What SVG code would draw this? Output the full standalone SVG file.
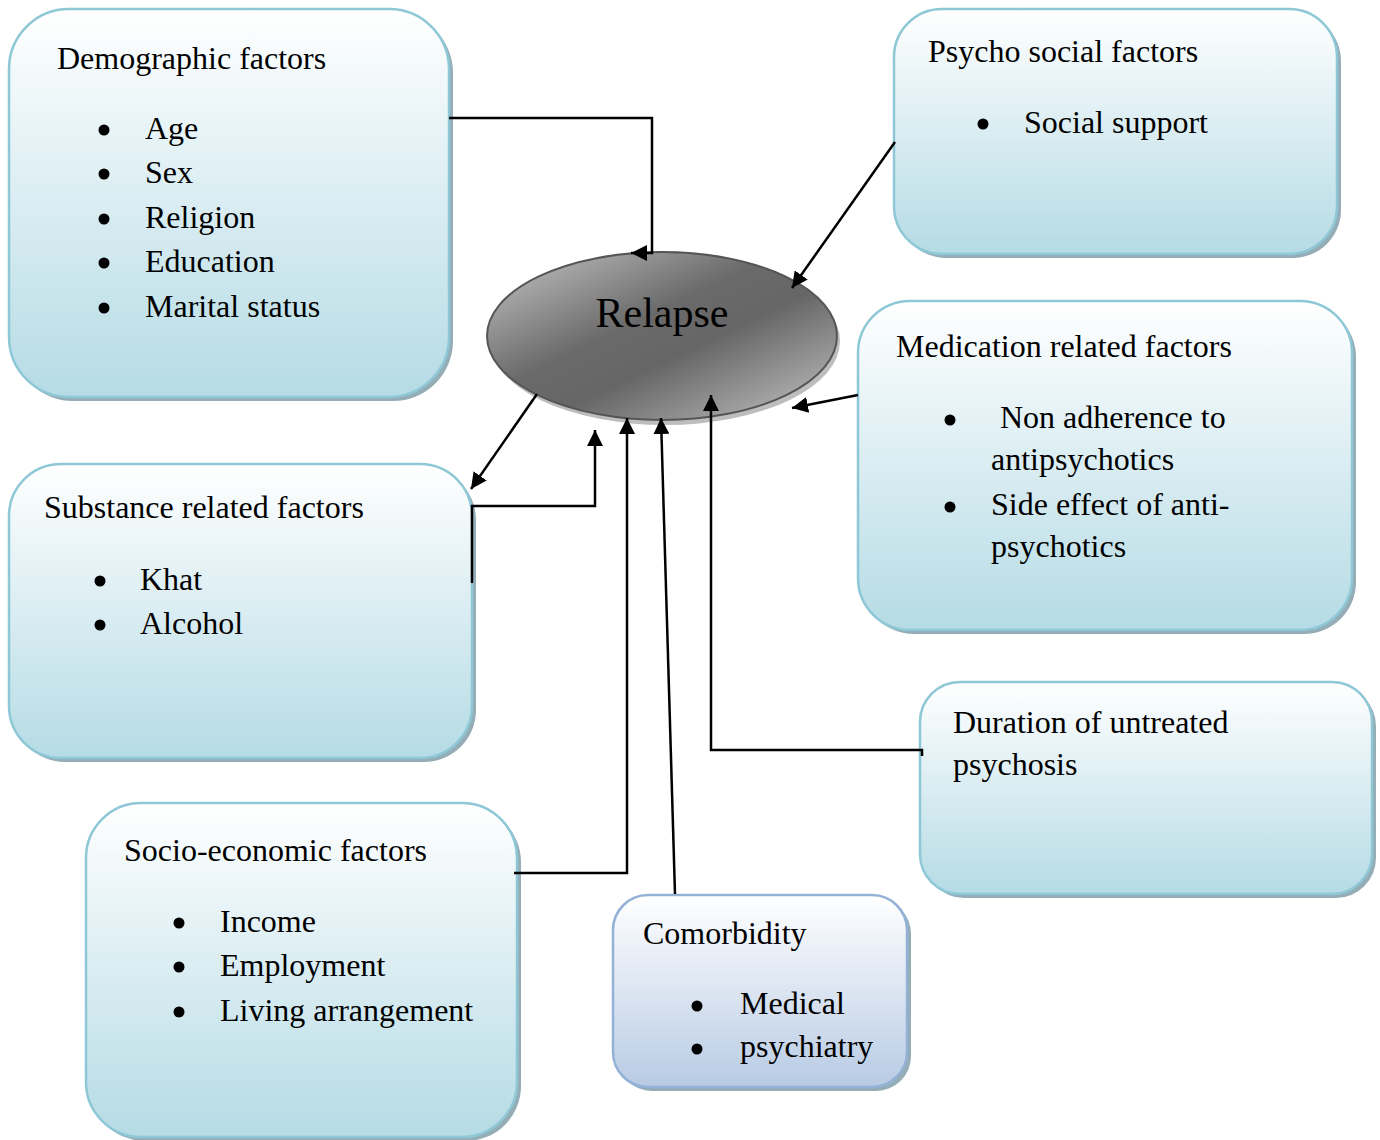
<svg xmlns="http://www.w3.org/2000/svg" width="1380" height="1140" viewBox="0 0 1380 1140">
<style>
.box{fill:url(#boxGrad);stroke:#8ec7d6;stroke-width:2.5}
.cbox{fill:url(#comGrad);stroke:#93b2d6;stroke-width:2.5}
.shadow{fill:#94adb7}
.t{font-family:"Liberation Serif","Times New Roman",serif;font-size:32px;fill:#000}
.rl{font-family:"Liberation Serif","Times New Roman",serif;font-size:42px;fill:#000;text-anchor:middle}
.dot{fill:#000}
.arr{fill:none;stroke:#000;stroke-width:2.5;marker-end:url(#ah)}
</style>
<defs>
<linearGradient id="boxGrad" x1="0" y1="0" x2="0" y2="1">
<stop offset="0" stop-color="#ffffff"/>
<stop offset="1" stop-color="#b5dbe5"/>
</linearGradient>
<linearGradient id="comGrad" x1="0" y1="0" x2="0" y2="1">
<stop offset="0" stop-color="#ffffff"/>
<stop offset="1" stop-color="#b8cbe4"/>
</linearGradient>
<linearGradient id="ellGrad" x1="0" y1="0" x2="1" y2="1">
<stop offset="0" stop-color="#c8c8c8"/>
<stop offset="0.42" stop-color="#6a6a6a"/>
<stop offset="0.58" stop-color="#666666"/>
<stop offset="1" stop-color="#c6c6c6"/>
</linearGradient>
<marker id="ah" markerUnits="userSpaceOnUse" markerWidth="17" markerHeight="16" refX="16" refY="8" orient="auto">
<path d="M0,0 L16,8 L0,16 z" fill="#000"/>
</marker>
</defs>

<g id="relapse">
<ellipse cx="665" cy="341" rx="175" ry="84" fill="#bdbdbd"/>
<ellipse cx="662" cy="336" rx="175" ry="84" fill="url(#ellGrad)" stroke="#555" stroke-width="2"/>
<text class="rl" x="662" y="327">Relapse</text>
</g>

<g id="demographic">
<rect class="shadow" x="13" y="13" width="440" height="388" rx="60"/>
<rect class="box" x="9" y="9" width="440" height="388" rx="60"/>
<text class="t" x="57" y="69">Demographic factors</text>
<circle class="dot" cx="104" cy="130" r="5.5"/><text class="t" x="145" y="139">Age</text>
<circle class="dot" cx="104" cy="174" r="5.5"/><text class="t" x="145" y="183">Sex</text>
<circle class="dot" cx="104" cy="219" r="5.5"/><text class="t" x="145" y="228">Religion</text>
<circle class="dot" cx="104" cy="263" r="5.5"/><text class="t" x="145" y="272">Education</text>
<circle class="dot" cx="104" cy="308" r="5.5"/><text class="t" x="145" y="317">Marital status</text>
</g>

<g id="psychosocial">
<rect class="shadow" x="898" y="13" width="443" height="245" rx="48"/>
<rect class="box" x="894" y="9" width="443" height="245" rx="48"/>
<text class="t" x="928" y="62">Psycho social factors</text>
<circle class="dot" cx="983" cy="124" r="5.5"/><text class="t" x="1024" y="133">Social support</text>
</g>

<g id="medication">
<rect class="shadow" x="862" y="305" width="494" height="329" rx="52"/>
<rect class="box" x="858" y="301" width="494" height="329" rx="52"/>
<text class="t" x="896" y="357">Medication related factors</text>
<circle class="dot" cx="950" cy="420" r="5.5"/><text class="t" x="1000" y="428">Non adherence to</text>
<text class="t" x="991" y="470">antipsychotics</text>
<circle class="dot" cx="950" cy="507" r="5.5"/><text class="t" x="991" y="515">Side effect of anti-</text>
<text class="t" x="991" y="557">psychotics</text>
</g>

<g id="substance">
<rect class="shadow" x="13" y="468" width="463" height="294" rx="52"/>
<rect class="box" x="9" y="464" width="463" height="294" rx="52"/>
<text class="t" x="44" y="518">Substance related factors</text>
<circle class="dot" cx="100" cy="581" r="5.5"/><text class="t" x="140" y="590">Khat</text>
<circle class="dot" cx="100" cy="625" r="5.5"/><text class="t" x="140" y="634">Alcohol</text>
</g>

<g id="duration">
<rect class="shadow" x="924" y="686" width="452" height="212" rx="40"/>
<rect class="box" x="920" y="682" width="452" height="212" rx="40"/>
<text class="t" x="953" y="733">Duration of untreated</text>
<text class="t" x="953" y="775">psychosis</text>
</g>

<g id="socioeconomic">
<rect class="shadow" x="90" y="807" width="431" height="334" rx="55"/>
<rect class="box" x="86" y="803" width="431" height="334" rx="55"/>
<text class="t" x="124" y="861">Socio-economic factors</text>
<circle class="dot" cx="179" cy="923" r="5.5"/><text class="t" x="220" y="932">Income</text>
<circle class="dot" cx="179" cy="967" r="5.5"/><text class="t" x="220" y="976">Employment</text>
<circle class="dot" cx="179" cy="1012" r="5.5"/><text class="t" x="220" y="1021">Living arrangement</text>
</g>

<g id="comorbidity">
<rect class="shadow" x="617" y="899" width="294" height="192" rx="35"/>
<rect class="cbox" x="613" y="895" width="294" height="192" rx="35"/>
<text class="t" x="643" y="944">Comorbidity</text>
<circle class="dot" cx="697" cy="1006" r="5.5"/><text class="t" x="740" y="1014">Medical</text>
<circle class="dot" cx="697" cy="1049" r="5.5"/><text class="t" x="740" y="1057">psychiatry</text>
</g>

<g id="connectors">
<path class="arr" d="M449,118 H652 V253 H631"/>
<path class="arr" d="M895,142 L792,288"/>
<path class="arr" d="M858,395 L792,408"/>
<path class="arr" d="M537,394 L471,489"/>
<path class="arr" d="M472,583 V506 H595 V430"/>
<path class="arr" d="M514,873 H627 V418"/>
<path class="arr" d="M675,894 L661,418"/>
<path class="arr" d="M922,756 V750 H711 V395"/>
</g>
</svg>
